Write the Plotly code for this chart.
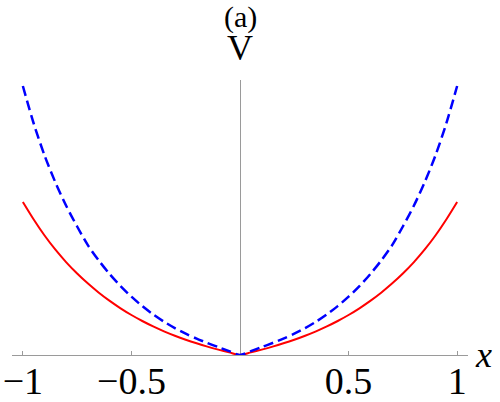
import plotly.graph_objects as go

x_vals = [-1.0, -0.95, -0.9, -0.85, -0.8, -0.75, -0.7, -0.65, -0.6, -0.55, -0.5, -0.45, -0.4, -0.35, -0.3, -0.25, -0.2, -0.15, -0.1, -0.05,
          0.0, 0.05, 0.1, 0.15, 0.2, 0.25, 0.3, 0.35, 0.4, 0.45, 0.5, 0.55, 0.6, 0.65, 0.7, 0.75, 0.8, 0.85, 0.9, 0.95, 1.0]

red_vals = [153, 135.5, 119.5, 105.3, 92.7, 81.5, 71.4, 62.3, 54.1, 46.7, 40.0, 34.0, 28.6, 23.7, 19.3, 15.3, 11.7, 8.4, 5.4, 2.6,
            0, 2.6, 5.4, 8.4, 11.7, 15.3, 19.3, 23.7, 28.6, 34.0, 40.0, 46.7, 54.1, 62.3, 71.4, 81.5, 92.7, 105.3, 119.5, 135.5, 153]

blue_vals = [269, 231.5, 199.5, 172.5, 149, 128.5, 109.6, 94.4, 80.9, 68.9, 58.3, 48.9, 40.6, 33.3, 26.9, 21.3, 16.4, 12.0, 7.9, 3.9,
             0, 3.9, 7.9, 12.0, 16.4, 21.3, 26.9, 33.3, 40.6, 48.9, 58.3, 68.9, 80.9, 94.4, 109.6, 128.5, 149, 172.5, 199.5, 231.5, 269]

tick_vals = [-1, -0.5, 0.5, 1]
tick_text = ["\u22121", "\u22120.5", "0.5", "1"]

SERIF = "Liberation Serif"
AXIS_GRAY = "#9a9a9a"

fig = go.Figure()
fig.add_trace(go.Scatter(x=x_vals, y=red_vals, mode="lines",
                         line=dict(color="#ff0000", width=2, shape="spline", smoothing=0.8),
                         showlegend=False, hoverinfo="skip"))
fig.add_trace(go.Scatter(x=x_vals, y=blue_vals, mode="lines",
                         line=dict(color="#0000ff", width=2.5, dash="10px,5px", shape="spline", smoothing=0.8),
                         showlegend=False, hoverinfo="skip"))

fig.update_layout(
    width=500, height=402,
    margin=dict(l=12, r=32, t=80, b=47),
    paper_bgcolor="white", plot_bgcolor="white",
    xaxis=dict(range=[-1.05, 1.05], showgrid=False, automargin=False,
               showline=True, linecolor=AXIS_GRAY, linewidth=1,
               ticks="inside", ticklen=4, tickcolor=AXIS_GRAY, tickwidth=1,
               tickvals=tick_vals, ticktext=tick_text,
               ticklabelstandoff=-8,
               tickfont=dict(family=SERIF, size=38, color="black"),
               zeroline=True, zerolinecolor=AXIS_GRAY, zerolinewidth=1),
    yaxis=dict(range=[0, 275], showgrid=False, zeroline=False, showline=False,
               showticklabels=False, ticks="", automargin=False),
    annotations=[
        dict(text="V", x=0, xref="x", y=1.115, yref="paper", showarrow=False,
             xanchor="center", yanchor="middle", font=dict(family=SERIF, size=36, color="black")),
        dict(text="(a)", x=0, xref="x", y=1.23, yref="paper", showarrow=False,
             xanchor="center", yanchor="middle", font=dict(family=SERIF, size=30, color="black")),
        dict(text="<i>x</i>", x=1.033, xref="paper", y=0.0, yref="paper", showarrow=False,
             xanchor="center", yanchor="middle", font=dict(family=SERIF, size=36, color="black")),
    ],
)

fig.write_html("out.html")
